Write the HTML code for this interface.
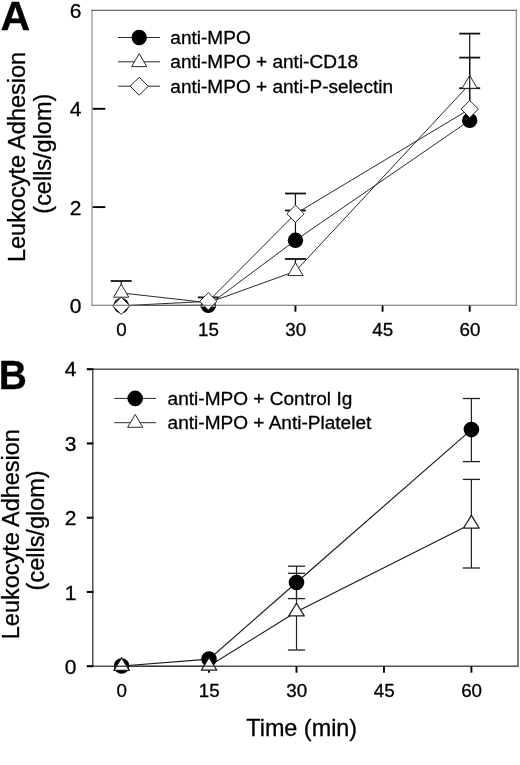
<!DOCTYPE html>
<html lang="en">
<head>
<meta charset="utf-8">
<title>Leukocyte Adhesion</title>
<style>
html,body{margin:0;padding:0;background:#fff;}
body{width:520px;height:765px;overflow:hidden;}
svg{display:block;}
svg text{font-family:"Liberation Sans", Arial, Helvetica, sans-serif;fill:#000;stroke:#000;stroke-width:0.3px;}
</style>
</head>
<body>
<svg width="520" height="765" viewBox="0 0 520 765">
<rect x="0" y="0" width="520" height="765" fill="#fff"/>
<line x1="92.5" y1="207.10" x2="105.3" y2="207.10" stroke="#000" stroke-width="1.9"/>
<line x1="92.5" y1="108.80" x2="105.3" y2="108.80" stroke="#000" stroke-width="1.9"/>
<line x1="121.20" y1="305.2" x2="121.20" y2="311.7" stroke="#000" stroke-width="1.9"/>
<line x1="208.32" y1="305.2" x2="208.32" y2="311.7" stroke="#000" stroke-width="1.9"/>
<line x1="295.45" y1="305.2" x2="295.45" y2="311.7" stroke="#000" stroke-width="1.9"/>
<line x1="382.57" y1="305.2" x2="382.57" y2="311.7" stroke="#000" stroke-width="1.9"/>
<line x1="469.70" y1="305.2" x2="469.70" y2="311.7" stroke="#000" stroke-width="1.9"/>
<polyline points="121.20,305.59 208.32,305.20 295.45,240.32 469.70,120.40" fill="none" stroke="#2a2a2a" stroke-width="1"/>
<line x1="295.45" y1="240.32" x2="295.45" y2="210.50" stroke="#111" stroke-width="1.2"/><line x1="284.95" y1="210.50" x2="305.95" y2="210.50" stroke="#111" stroke-width="1.8"/>
<line x1="469.70" y1="120.40" x2="469.70" y2="88.20" stroke="#111" stroke-width="1.2"/><line x1="459.20" y1="88.20" x2="480.20" y2="88.20" stroke="#111" stroke-width="1.8"/>
<circle cx="121.20" cy="305.59" r="7.7" fill="#000"/>
<circle cx="208.32" cy="305.20" r="7.7" fill="#000"/>
<circle cx="295.45" cy="240.32" r="7.7" fill="#000"/>
<circle cx="469.70" cy="120.40" r="7.7" fill="#000"/>
<polyline points="121.20,292.91 208.32,302.74 295.45,271.29 469.70,84.03" fill="none" stroke="#2a2a2a" stroke-width="1"/>
<line x1="121.20" y1="292.91" x2="121.20" y2="281.00" stroke="#111" stroke-width="1.2"/><line x1="110.70" y1="281.00" x2="131.70" y2="281.00" stroke="#111" stroke-width="1.8"/>
<line x1="208.32" y1="302.74" x2="208.32" y2="297.40" stroke="#111" stroke-width="1.2"/><line x1="197.82" y1="297.40" x2="218.82" y2="297.40" stroke="#111" stroke-width="1.8"/>
<line x1="295.45" y1="271.29" x2="295.45" y2="259.00" stroke="#111" stroke-width="1.2"/><line x1="284.95" y1="259.00" x2="305.95" y2="259.00" stroke="#111" stroke-width="1.8"/>
<line x1="469.70" y1="84.03" x2="469.70" y2="33.60" stroke="#111" stroke-width="1.2"/><line x1="459.20" y1="33.60" x2="480.20" y2="33.60" stroke="#111" stroke-width="1.8"/>
<polygon points="121.20,284.31 113.60,297.21 128.80,297.21" fill="#fff" stroke="#2a2a2a" stroke-width="1" stroke-linejoin="round"/>
<polygon points="208.32,294.14 200.72,307.04 215.92,307.04" fill="#fff" stroke="#2a2a2a" stroke-width="1" stroke-linejoin="round"/>
<polygon points="295.45,262.69 287.85,275.59 303.05,275.59" fill="#fff" stroke="#2a2a2a" stroke-width="1" stroke-linejoin="round"/>
<polygon points="469.70,75.43 462.10,88.33 477.30,88.33" fill="#fff" stroke="#2a2a2a" stroke-width="1" stroke-linejoin="round"/>
<polyline points="121.20,305.79 208.32,301.37 295.45,213.78 469.70,109.09" fill="none" stroke="#2a2a2a" stroke-width="1"/>
<line x1="295.45" y1="213.78" x2="295.45" y2="193.50" stroke="#111" stroke-width="1.2"/><line x1="284.95" y1="193.50" x2="305.95" y2="193.50" stroke="#111" stroke-width="1.8"/>
<line x1="469.70" y1="109.09" x2="469.70" y2="57.60" stroke="#111" stroke-width="1.2"/><line x1="459.20" y1="57.60" x2="480.20" y2="57.60" stroke="#111" stroke-width="1.8"/>
<polygon points="121.20,297.19 129.85,305.79 121.20,314.39 112.55,305.79" fill="#fff" stroke="#2a2a2a" stroke-width="1"/>
<polygon points="208.32,292.77 216.97,301.37 208.32,309.97 199.67,301.37" fill="#fff" stroke="#2a2a2a" stroke-width="1"/>
<polygon points="295.45,205.18 304.10,213.78 295.45,222.38 286.80,213.78" fill="#fff" stroke="#2a2a2a" stroke-width="1"/>
<polygon points="469.70,100.49 478.35,109.09 469.70,117.69 461.05,109.09" fill="#fff" stroke="#2a2a2a" stroke-width="1"/>
<path d="M92.0 305.2V10.3M516.3 10.3V305.2" fill="none" stroke="#7c7c7c" stroke-width="1.05" stroke-linecap="square"/>
<path d="M92.0 305.2H516.3" fill="none" stroke="#6a6a6a" stroke-width="1.05" stroke-linecap="square"/>
<path d="M92.0 10.3H516.3" fill="none" stroke="#444" stroke-width="1.05" stroke-linecap="square"/>
<line x1="118" y1="37.5" x2="160" y2="37.5" stroke="#2a2a2a" stroke-width="1"/>
<circle cx="139.20" cy="37.50" r="7.7" fill="#000"/>
<text transform="translate(170.30,43.70) scale(1.03,1)" font-size="18.5" text-anchor="start">anti-MPO</text>
<line x1="118" y1="61.8" x2="160" y2="61.8" stroke="#2a2a2a" stroke-width="1"/>
<polygon points="139.20,53.70 131.60,66.60 146.80,66.60" fill="#fff" stroke="#2a2a2a" stroke-width="1" stroke-linejoin="round"/>
<text transform="translate(170.30,68.00) scale(1.03,1)" font-size="18.5" text-anchor="start">anti-MPO + anti-CD18</text>
<line x1="118" y1="86.2" x2="160" y2="86.2" stroke="#2a2a2a" stroke-width="1"/>
<polygon points="139.20,77.20 148.20,86.20 139.20,95.20 130.20,86.20" fill="#fff" stroke="#2a2a2a" stroke-width="1"/>
<text transform="translate(170.30,92.50) scale(1.03,1)" font-size="18.5" text-anchor="start">anti-MPO + anti-P-selectin</text>
<text transform="translate(81.40,312.80) scale(1.01,1)" font-size="20.8" text-anchor="end">0</text>
<text transform="translate(81.40,214.50) scale(1.01,1)" font-size="20.8" text-anchor="end">2</text>
<text transform="translate(81.40,116.20) scale(1.01,1)" font-size="20.8" text-anchor="end">4</text>
<text transform="translate(81.40,17.90) scale(1.01,1)" font-size="20.8" text-anchor="end">6</text>
<text transform="translate(121.40,336.40) scale(0.995,1)" font-size="18.9" text-anchor="middle">0</text>
<text transform="translate(208.52,336.40) scale(0.995,1)" font-size="18.9" text-anchor="middle">15</text>
<text transform="translate(295.65,336.40) scale(0.995,1)" font-size="18.9" text-anchor="middle">30</text>
<text transform="translate(382.77,336.40) scale(0.995,1)" font-size="18.9" text-anchor="middle">45</text>
<text transform="translate(469.90,336.40) scale(0.995,1)" font-size="18.9" text-anchor="middle">60</text>
<text transform="translate(0.60,30.30) scale(1.03,1)" font-size="40" text-anchor="start" font-weight="bold">A</text>
<text transform="translate(25.20,157.00) rotate(-90) scale(1.008,1)" font-size="23.3" text-anchor="middle">Leukocyte Adhesion</text>
<text transform="translate(51.20,153.70) rotate(-90) scale(1.008,1)" font-size="23.3" text-anchor="middle">(cells/glom)</text>
<line x1="86.8" y1="666.20" x2="93.6" y2="666.20" stroke="#000" stroke-width="2.1"/>
<line x1="86.8" y1="591.95" x2="93.6" y2="591.95" stroke="#000" stroke-width="2.1"/>
<line x1="86.8" y1="517.70" x2="93.6" y2="517.70" stroke="#000" stroke-width="2.1"/>
<line x1="86.8" y1="443.45" x2="93.6" y2="443.45" stroke="#000" stroke-width="2.1"/>
<line x1="86.8" y1="369.20" x2="93.6" y2="369.20" stroke="#000" stroke-width="2.1"/>
<line x1="121.60" y1="666.2" x2="121.60" y2="672.7" stroke="#000" stroke-width="1.9"/>
<line x1="209.05" y1="666.2" x2="209.05" y2="672.7" stroke="#000" stroke-width="1.9"/>
<line x1="296.50" y1="666.2" x2="296.50" y2="672.7" stroke="#000" stroke-width="1.9"/>
<line x1="383.95" y1="666.2" x2="383.95" y2="672.7" stroke="#000" stroke-width="1.9"/>
<line x1="471.40" y1="666.2" x2="471.40" y2="672.7" stroke="#000" stroke-width="1.9"/>
<polyline points="121.60,666.00 209.05,659.10 296.50,582.50 471.40,429.60" fill="none" stroke="#1a1a1a" stroke-width="1.15"/>
<polyline points="121.60,666.20 209.05,666.00 296.50,611.70 471.40,523.80" fill="none" stroke="#1a1a1a" stroke-width="1.15"/>
<line x1="296.50" y1="582.50" x2="296.50" y2="566.20" stroke="#222" stroke-width="1.2"/><line x1="287.90" y1="566.20" x2="305.10" y2="566.20" stroke="#222" stroke-width="1.3"/>
<line x1="296.50" y1="582.50" x2="296.50" y2="598.60" stroke="#222" stroke-width="1.2"/><line x1="287.90" y1="598.60" x2="305.10" y2="598.60" stroke="#222" stroke-width="1.3"/>
<line x1="471.40" y1="429.60" x2="471.40" y2="398.50" stroke="#222" stroke-width="1.2"/><line x1="462.80" y1="398.50" x2="480.00" y2="398.50" stroke="#222" stroke-width="1.3"/>
<line x1="471.40" y1="429.60" x2="471.40" y2="461.60" stroke="#222" stroke-width="1.2"/><line x1="462.80" y1="461.60" x2="480.00" y2="461.60" stroke="#222" stroke-width="1.3"/>
<line x1="296.50" y1="611.70" x2="296.50" y2="573.30" stroke="#222" stroke-width="1.2"/><line x1="287.90" y1="573.30" x2="305.10" y2="573.30" stroke="#222" stroke-width="1.3"/>
<line x1="296.50" y1="611.70" x2="296.50" y2="650.00" stroke="#222" stroke-width="1.2"/><line x1="287.90" y1="650.00" x2="305.10" y2="650.00" stroke="#222" stroke-width="1.3"/>
<line x1="471.40" y1="523.80" x2="471.40" y2="479.40" stroke="#222" stroke-width="1.2"/><line x1="462.80" y1="479.40" x2="480.00" y2="479.40" stroke="#222" stroke-width="1.3"/>
<line x1="471.40" y1="523.80" x2="471.40" y2="568.00" stroke="#222" stroke-width="1.2"/><line x1="462.80" y1="568.00" x2="480.00" y2="568.00" stroke="#222" stroke-width="1.3"/>
<circle cx="121.60" cy="666.00" r="7.8" fill="#000"/>
<circle cx="209.05" cy="659.10" r="7.8" fill="#000"/>
<circle cx="296.50" cy="582.50" r="7.8" fill="#000"/>
<circle cx="471.40" cy="429.60" r="7.8" fill="#000"/>
<polygon points="121.60,657.73 113.85,670.43 129.35,670.43" fill="#fff" stroke="#1c1c1c" stroke-width="1.25" stroke-linejoin="round"/>
<polygon points="209.05,657.53 201.30,670.23 216.80,670.23" fill="#fff" stroke="#1c1c1c" stroke-width="1.25" stroke-linejoin="round"/>
<polygon points="296.50,603.23 288.75,615.93 304.25,615.93" fill="#fff" stroke="#1c1c1c" stroke-width="1.25" stroke-linejoin="round"/>
<polygon points="471.40,515.33 463.65,528.03 479.15,528.03" fill="#fff" stroke="#1c1c1c" stroke-width="1.25" stroke-linejoin="round"/>
<rect x="92.8" y="369.2" width="425.2" height="297.00000000000006" fill="none" stroke="#303030" stroke-width="1.25"/>
<line x1="114.3" y1="398.4" x2="156" y2="398.4" stroke="#2a2a2a" stroke-width="1"/>
<circle cx="135.20" cy="398.40" r="7.8" fill="#000"/>
<text transform="translate(167.60,404.80) scale(1.03,1)" font-size="18.5" text-anchor="start">anti-MPO + Control Ig</text>
<line x1="114.3" y1="422.7" x2="156" y2="422.7" stroke="#2a2a2a" stroke-width="1"/>
<polygon points="135.20,414.47 127.60,427.27 142.80,427.27" fill="#fff" stroke="#2a2a2a" stroke-width="1" stroke-linejoin="round"/>
<text transform="translate(167.60,429.20) scale(1.03,1)" font-size="18.5" text-anchor="start">anti-MPO + Anti-Platelet</text>
<text transform="translate(-1.30,388.70) scale(0.975,1)" font-size="40" text-anchor="start" font-weight="bold">B</text>
<text transform="translate(18.60,534.20) rotate(-90) scale(1.008,1)" font-size="23.3" text-anchor="middle">Leukocyte Adhesion</text>
<text transform="translate(44.20,530.40) rotate(-90) scale(1.008,1)" font-size="23.3" text-anchor="middle">(cells/glom)</text>
<text transform="translate(301.70,736.20) scale(1.018,1)" font-size="23" text-anchor="middle">Time (min)</text>
<text transform="translate(76.50,673.80) scale(1.01,1)" font-size="20.8" text-anchor="end">0</text>
<text transform="translate(76.50,599.55) scale(1.01,1)" font-size="20.8" text-anchor="end">1</text>
<text transform="translate(76.50,525.30) scale(1.01,1)" font-size="20.8" text-anchor="end">2</text>
<text transform="translate(76.50,451.05) scale(1.01,1)" font-size="20.8" text-anchor="end">3</text>
<text transform="translate(76.50,375.60) scale(1.01,1)" font-size="20.8" text-anchor="end">4</text>
<text transform="translate(121.80,697.40) scale(0.995,1)" font-size="18.9" text-anchor="middle">0</text>
<text transform="translate(209.25,697.40) scale(0.995,1)" font-size="18.9" text-anchor="middle">15</text>
<text transform="translate(296.70,697.40) scale(0.995,1)" font-size="18.9" text-anchor="middle">30</text>
<text transform="translate(384.15,697.40) scale(0.995,1)" font-size="18.9" text-anchor="middle">45</text>
<text transform="translate(471.60,697.40) scale(0.995,1)" font-size="18.9" text-anchor="middle">60</text>
</svg>
</body>
</html>
